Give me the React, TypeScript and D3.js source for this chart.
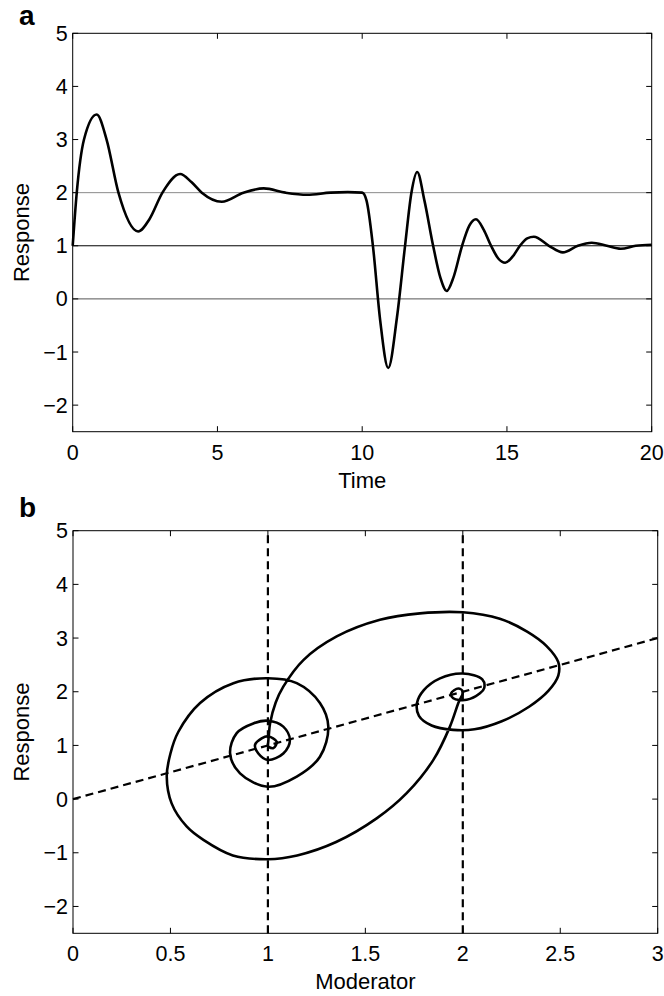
import React from 'react';
import * as d3 from 'd3';

// panel a: response over time
const timeA = [0, 0.14, 0.39, 0.83, 1.17, 1.58, 2.26, 2.65, 3.1, 3.71, 4.1, 4.46, 5.15, 5.9, 6.6, 7.35, 8.1, 8.9, 9.5, 10.0,
  10.15, 10.37, 10.62, 10.9, 11.2, 11.48, 11.7, 11.9, 12.15, 12.45, 12.7, 12.92, 13.15, 13.45, 13.7, 13.93, 14.2, 14.45,
  14.7, 14.94, 15.2, 15.45, 15.7, 15.93, 16.45, 16.93, 17.45, 17.93, 18.45, 18.93, 19.45, 20];
const respA = [1.0, 2.0, 3.0, 3.47, 3.0, 2.0, 1.27, 1.5, 2.0, 2.35, 2.2, 2.0, 1.83, 2.0, 2.08, 2.0, 1.96, 2.0, 2.01, 2.0,
  1.85, 1.0, -0.4, -1.3, -0.35, 1.0, 2.0, 2.39, 1.85, 1.0, 0.4, 0.15, 0.4, 1.0, 1.38, 1.5, 1.3, 1.0,
  0.76, 0.68, 0.8, 1.0, 1.14, 1.17, 1.0, 0.876, 1.0, 1.056, 1.0, 0.945, 1.0, 1.02];
const refLevelsA = [2, 1, 0];

// panel b: response against moderator
const modB = [1.0, 1.005, 1.011, 1.04, 1.079, 1.182, 1.353, 1.575, 1.78, 2.0, 2.19, 2.33, 2.43, 2.49, 2.49, 2.44,
  2.34, 2.2, 2.06, 1.95, 1.84, 1.775, 1.765, 1.8, 1.883, 2.0, 2.1, 2.11, 2.088, 2.02, 1.951, 1.94, 1.977, 2.0,
  1.977, 1.934, 1.849, 1.712, 1.558, 1.35, 1.15, 1.0, 0.82, 0.669, 0.583, 0.506, 0.481, 0.5, 0.54, 0.652, 0.823, 1.0,
  1.148, 1.267, 1.31, 1.267, 1.148, 1.0, 0.857, 0.806, 0.84, 0.925, 1.0, 1.079, 1.113, 1.079, 1.0, 0.951, 0.934, 0.968,
  1.0, 1.045, 1.028, 1.0];
const respB = [1.0, 1.2, 1.41, 1.8, 2.095, 2.59, 3.03, 3.34, 3.46, 3.48, 3.36, 3.12, 2.85, 2.55, 2.3, 2.02,
  1.72, 1.45, 1.3, 1.29, 1.37, 1.55, 1.79, 2.03, 2.25, 2.34, 2.23, 2.07, 1.97, 1.85, 1.88, 1.97, 2.06, 2.0,
  1.79, 1.35, 0.73, 0.11, -0.36, -0.8, -1.05, -1.12, -1.05, -0.76, -0.51, -0.08, 0.42, 0.85, 1.25, 1.79, 2.16, 2.25,
  2.16, 1.79, 1.35, 0.79, 0.42, 0.23, 0.48, 0.85, 1.23, 1.41, 1.46, 1.35, 1.1, 0.85, 0.73, 0.85, 1.01, 1.13,
  1.17, 1.07, 0.95, 0.98];
const nullclineMods = [1, 2];
const diagonalB = [0, 3];

const yTicks = [-2, -1, 0, 1, 2, 3, 4, 5];
const xTicksA = [0, 5, 10, 15, 20];
const xTicksB = [0, 0.5, 1, 1.5, 2, 2.5, 3];

const FONT = '"Liberation Sans", Arial, Helvetica, sans-serif';
const TICK = 5.5;

const fmt = (v: number) => (v < 0 ? '\u2212' + Math.abs(v) : String(v));

function Frame({ x, y, xTicks, xLabel, letter, letterY }: any) {
  const [x0, x1] = x.range();
  const [y0, y1] = y.range(); // y0 bottom, y1 top
  return (
    <g fontFamily={FONT} fill="#000">
      <rect x={x0} y={y1} width={x1 - x0} height={y0 - y1} fill="none" stroke="#000" strokeWidth={1} />
      {yTicks.map((t) => (
        <g key={'y' + t}>
          <line x1={x0} x2={x0 + TICK} y1={y(t)} y2={y(t)} stroke="#000" />
          <line x1={x1} x2={x1 - TICK} y1={y(t)} y2={y(t)} stroke="#000" />
          <text x={x0 - 5} y={y(t) + 7.5} textAnchor="end" fontSize={21.5}>{fmt(t)}</text>
        </g>
      ))}
      {xTicks.map((t: number) => (
        <g key={'x' + t}>
          <line x1={x(t)} x2={x(t)} y1={y0} y2={y0 - TICK} stroke="#000" />
          <line x1={x(t)} x2={x(t)} y1={y1} y2={y1 + TICK} stroke="#000" />
          <text x={x(t)} y={y0 + 28} textAnchor="middle" fontSize={21.5}>{fmt(t)}</text>
        </g>
      ))}
      <text x={(x0 + x1) / 2} y={y0 + 56} textAnchor="middle" fontSize={22}>{xLabel}</text>
      <text transform={`translate(29,${(y0 + y1) / 2}) rotate(-90)`} textAnchor="middle" fontSize={22}>Response</text>
      <text x={19} y={letterY} fontSize={28} fontWeight="bold">{letter}</text>
    </g>
  );
}

export default function App() {
  const xA = d3.scaleLinear().domain([0, 20]).range([72.7, 651.7]);
  const yA = d3.scaleLinear().domain([-2.5, 5]).range([431.7, 33.3]);
  const xB = d3.scaleLinear().domain([0, 3]).range([73, 657.7]);
  const yB = d3.scaleLinear().domain([-2.5, 5]).range([933.3, 530.7]);

  const lineA = d3.line<number>()
    .x((d, i) => xA(timeA[i]))
    .y((d) => yA(d))
    .curve(d3.curveMonotoneX);

  const lineB = d3.line<number>()
    .x((d, i) => xB(modB[i]))
    .y((d) => yB(d))
    .curve(d3.curveCatmullRom.alpha(0.5));

  const refColors: any = { 2: '#8a8a8a', 1: '#000', 0: '#555' };

  return (
    <svg width={664} height={996} style={{ position: 'absolute', left: 0, top: 0, background: '#fff' }}>
      <rect width={664} height={996} fill="#fff" />
      {/* panel a */}
      {refLevelsA.map((lv) => (
        <line key={lv} x1={xA(0)} x2={xA(20)} y1={yA(lv)} y2={yA(lv)} stroke={refColors[lv]} strokeWidth={1} />
      ))}
      <path d={lineA(respA) || ''} fill="none" stroke="#000" strokeWidth={2.6} strokeLinejoin="round" />
      <Frame x={xA} y={yA} xTicks={xTicksA} xLabel="Time" letter="a" letterY={25} />

      {/* panel b */}
      {nullclineMods.map((m) => (
        <line key={m} x1={xB(m)} x2={xB(m)} y1={yB(-2.5)} y2={yB(5)} stroke="#000" strokeWidth={2.2} strokeDasharray="8,5" />
      ))}
      <line x1={xB(diagonalB[0])} y1={yB(diagonalB[0])} x2={xB(diagonalB[1])} y2={yB(diagonalB[1])}
        stroke="#000" strokeWidth={2.2} strokeDasharray="8,5" />
      <path d={lineB(respB) || ''} fill="none" stroke="#000" strokeWidth={2.6} strokeLinejoin="round" />
      <Frame x={xB} y={yB} xTicks={xTicksB} xLabel="Moderator" letter="b" letterY={517} />
    </svg>
  );
}
